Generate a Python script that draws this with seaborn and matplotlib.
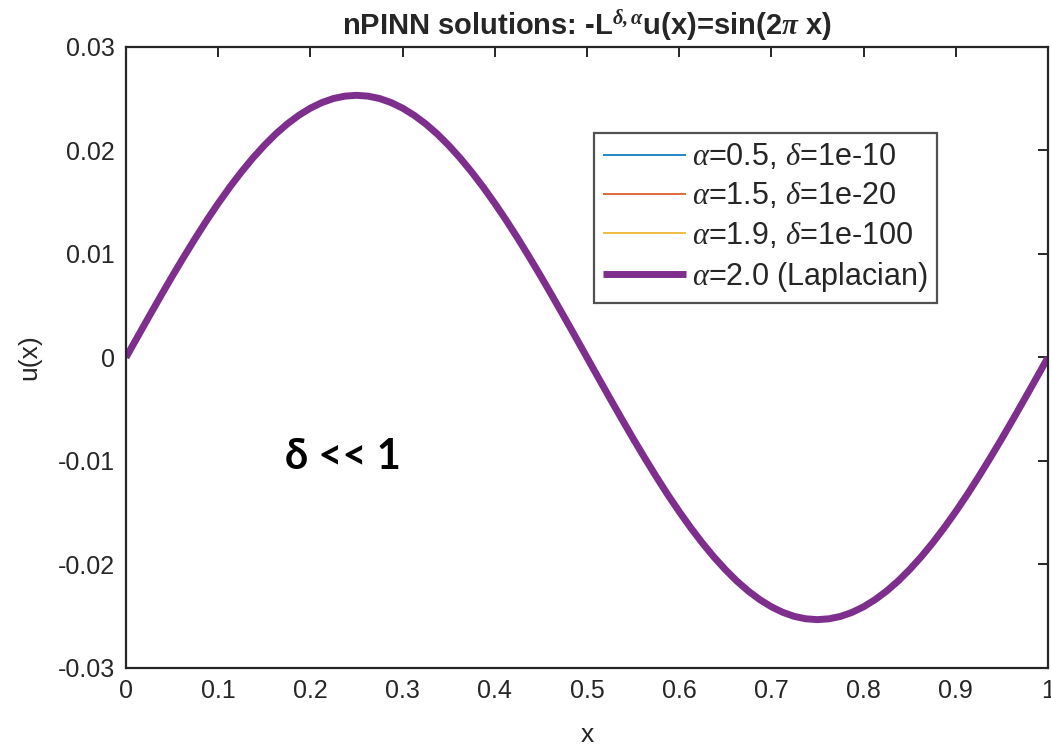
import pandas as pd
import seaborn as sns
import matplotlib.pyplot as plt

# values (all four solutions overlap), step 0.0125 in x
x_vals = [i / 80 for i in range(81)]
u_vals = [0.00000, 0.00199, 0.00396, 0.00591, 0.00783, 0.00969, 0.01150, 0.01324, 0.01489, 0.01645,
          0.01791, 0.01926, 0.02049, 0.02160, 0.02257, 0.02340, 0.02409, 0.02463, 0.02502, 0.02525,
          0.02533, 0.02525, 0.02502, 0.02463, 0.02409, 0.02340, 0.02257, 0.02160, 0.02049, 0.01926,
          0.01791, 0.01645, 0.01489, 0.01324, 0.01150, 0.00969, 0.00783, 0.00591, 0.00396, 0.00199,
          0.00000, -0.00199, -0.00396, -0.00591, -0.00783, -0.00969, -0.01150, -0.01324, -0.01489, -0.01645,
          -0.01791, -0.01926, -0.02049, -0.02160, -0.02257, -0.02340, -0.02409, -0.02463, -0.02502, -0.02525,
          -0.02533, -0.02525, -0.02502, -0.02463, -0.02409, -0.02340, -0.02257, -0.02160, -0.02049, -0.01926,
          -0.01791, -0.01645, -0.01489, -0.01324, -0.01150, -0.00969, -0.00783, -0.00591, -0.00396, -0.00199,
          0.00000]

labels = [r'$\alpha$=0.5, $\delta$=1e-10',
          r'$\alpha$=1.5, $\delta$=1e-20',
          r'$\alpha$=1.9, $\delta$=1e-100',
          r'$\alpha$=2.0 (Laplacian)']
colors = ['#0072BD', '#D95319', '#EDB120', '#7E2F8E']
widths = [1.2, 1.2, 1.2, 5.0]

x_ticks = [0, 0.1, 0.2, 0.3, 0.4, 0.5, 0.6, 0.7, 0.8, 0.9, 1]
x_ticklabels = ['0', '0.1', '0.2', '0.3', '0.4', '0.5', '0.6', '0.7', '0.8', '0.9', '1']
y_ticks = [-0.03, -0.02, -0.01, 0, 0.01, 0.02, 0.03]
y_ticklabels = ['-0.03', '-0.02', '-0.01', '0', '0.01', '0.02', '0.03']

sns.set_style("white")
plt.rcParams['font.family'] = ['Liberation Sans', 'DejaVu Sans']
plt.rcParams['mathtext.fontset'] = 'custom'
plt.rcParams['mathtext.rm'] = 'Liberation Sans'
plt.rcParams['mathtext.it'] = 'Liberation Serif:style=italic'
plt.rcParams['mathtext.bf'] = 'Liberation Serif:style=italic:weight=bold'

fig = plt.figure(figsize=(10.51, 7.48), dpi=100)
ax = fig.add_axes([0.1199, 0.107, 0.8772, 0.8302])

for lab, c, w in zip(labels, colors, widths):
    df = pd.DataFrame({'x': x_vals, 'u': u_vals})
    sns.lineplot(data=df, x='x', y='u', color=c, linewidth=w, label=lab, ax=ax,
                 solid_joinstyle='round', solid_capstyle='butt')

ax.set_xlim(0, 1)
ax.set_ylim(-0.03, 0.03)
ax.set_xticks(x_ticks)
ax.set_xticklabels(x_ticklabels)
ax.set_yticks(y_ticks)
ax.set_yticklabels(y_ticklabels)
ax.tick_params(direction='in', length=7, width=1.4, color='#262626',
               labelsize=18, labelcolor='#262626', top=True, right=True, pad=8)
for s in ax.spines.values():
    s.set_linewidth(1.6)
    s.set_color('#262626')

ax.set_xlabel('x', fontsize=19, color='#262626', labelpad=14)
ax.set_ylabel('u(x)', fontsize=19, color='#262626', labelpad=12)
ax.set_title('nPINN solutions: -L$^{\\mathbf{δ,α}}$u(x)=sin(2$\\mathbf{π}$ x)',
             fontsize=21, fontweight='bold', color='#262626', pad=8)

ax.text(0.172, -0.0108, 'δ << 1', fontsize=30, fontweight='bold',
        family=['Lato', 'DejaVu Sans'], color='black')

leg = ax.legend(loc='upper right', bbox_to_anchor=(0.896, 0.886), fontsize=22,
                frameon=True, fancybox=False, edgecolor='#262626',
                handlelength=2.7, handletextpad=0.2, borderpad=0.3, labelspacing=0.3)
leg.get_frame().set_linewidth(1.6)

fig.savefig('out.png', dpi=100)
